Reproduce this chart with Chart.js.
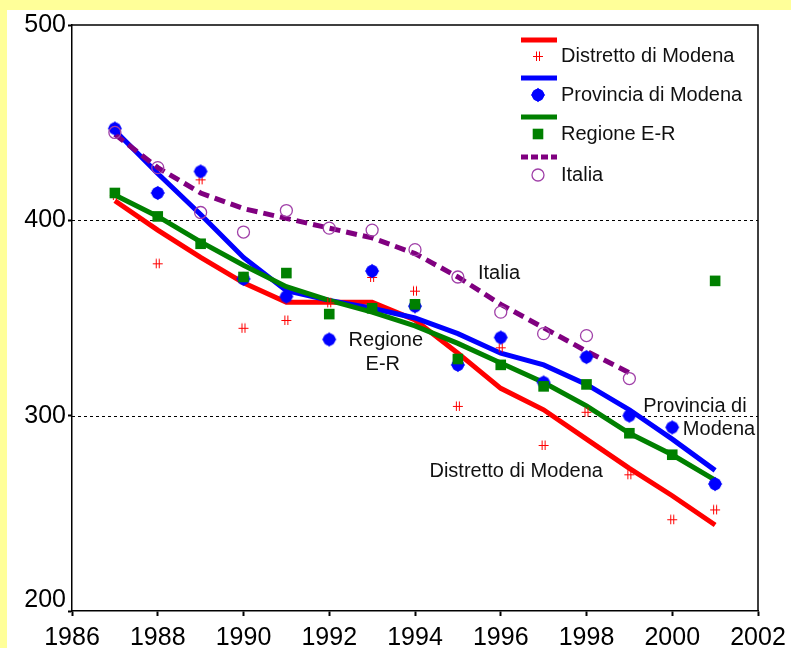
<!DOCTYPE html>
<html>
<head>
<meta charset="utf-8">
<script src="https://cdn.jsdelivr.net/npm/chart.js@4.4.0/dist/chart.umd.min.js"></script>
<style>
  html, body { margin: 0; padding: 0; background: #ffffff; }
  canvas { display: block; }
</style>
</head>
<body>
<canvas id="c" width="791" height="648"></canvas>
<script>
// Years of observation
const years = [1987, 1988, 1989, 1990, 1991, 1992, 1993, 1994, 1995, 1996, 1997, 1998, 1999, 2000, 2001];
const italiaYears = [1987, 1988, 1989, 1990, 1991, 1992, 1993, 1994, 1995, 1996, 1997, 1998, 1999];

// Observed rates
const distrettoObs = [413, 378, 421, 345, 349, 358, 371, 364, 305, 335, 285, 302, 270, 247, 252];
const provinciaObs = [447, 414, 425, 370, 361, 339, 374, 356, 326, 340, 317, 330, 300, 294, 265];
const regioneObs   = [414, 402, 388, 371, 373, 352, 355, 357, 329, 326, 315, 316, 291, 280, 369];
const italiaObs    = [445, 427, 404, 394, 405, 396, 395, 385, 371, 353, 342, 341, 319];

// Smoothed trends
const distrettoFit = [410, 395, 381, 368, 358, 358, 358, 349, 332, 314, 303, 288, 273, 259, 244];
const provinciaFit = [446, 424, 403, 381, 364, 359, 355, 350, 342, 332, 326, 316, 303, 288, 272];
const regioneFit   = [413, 402, 389, 377, 366, 359, 353, 346, 337, 327, 317, 305, 291, 280, 267];
const italiaFit    = [444, 427, 414, 406, 401, 396, 391, 383, 371, 357, 345, 333, 322];

// Axis ticks and reference lines
const xTicks = [1986, 1988, 1990, 1992, 1994, 1996, 1998, 2000, 2002];
const yTicks = [200, 300, 400, 500];
const refLines = [300, 400];

const FONT = '"Liberation Sans", Arial, Helvetica, sans-serif';

function asteriskMarker(color) {
  const c = document.createElement('canvas');
  c.width = 12; c.height = 12;
  const g = c.getContext('2d');
  g.strokeStyle = color;
  g.lineWidth = 1;
  g.beginPath();
  g.moveTo(1, 6.5); g.lineTo(11, 6.5);
  g.moveTo(4.5, 1.5); g.lineTo(4.5, 11);
  g.moveTo(7.5, 1.5); g.lineTo(7.5, 11);
  g.stroke();
  return c;
}

function diamondMarker(color) {
  const c = document.createElement('canvas');
  c.width = 16; c.height = 16;
  const g = c.getContext('2d');
  g.fillStyle = color;
  g.beginPath(); g.arc(8, 8, 6.2, 0, Math.PI * 2); g.fill();
  g.beginPath();
  g.moveTo(8, 0.8); g.lineTo(15.2, 8); g.lineTo(8, 15.2); g.lineTo(0.8, 8);
  g.closePath(); g.fill();
  return c;
}

const pts = (xs, ys) => xs.map((x, i) => ({ x: x, y: ys[i] }));

const series = [
  { label: 'Distretto di Modena', line: '#ff0000', obs: pts(years, distrettoObs), fit: pts(years, distrettoFit),
    point: { pointStyle: asteriskMarker('#ff0000'), pointRadius: 6, pointBackgroundColor: '#ff0000', pointBorderWidth: 0 } },
  { label: 'Provincia di Modena', line: '#0000ff', obs: pts(years, provinciaObs), fit: pts(years, provinciaFit),
    point: { pointStyle: diamondMarker('#0000ff'), pointRadius: 8, pointBackgroundColor: '#0000ff', pointBorderWidth: 0 } },
  { label: 'Regione E-R', line: '#008000', obs: pts(years, regioneObs), fit: pts(years, regioneFit),
    point: { pointStyle: 'rect', pointRadius: 7.5, pointBackgroundColor: '#008000', pointBorderColor: '#008000', pointBorderWidth: 0 } },
  { label: 'Italia', line: '#800080', dash: [11, 6], obs: pts(italiaYears, italiaObs), fit: pts(italiaYears, italiaFit),
    point: { pointStyle: 'circle', pointRadius: 6, pointBackgroundColor: 'rgba(0,0,0,0)', pointBorderColor: '#a040a8', pointBorderWidth: 1.3 } }
];

const datasets = [];
series.forEach((s, i) => {
  datasets.push({
    label: s.label + ' (trend)',
    data: s.fit,
    borderColor: s.line,
    borderWidth: 5,
    borderDash: s.dash || [],
    pointRadius: 0,
    tension: 0,
    fill: false,
    order: 20 - i
  });
  datasets.push(Object.assign({
    label: s.label,
    data: s.obs,
    showLine: false,
    order: 10 - i
  }, s.point));
});

// Paper background with the yellow band on the top and left
const backgroundPlugin = {
  id: 'paper',
  beforeDraw(chart) {
    const ctx = chart.ctx;
    ctx.save();
    ctx.fillStyle = '#ffffff';
    ctx.fillRect(0, 0, chart.width, chart.height);
    ctx.fillStyle = '#ffff99';
    ctx.fillRect(0, 0, chart.width, 10);
    ctx.fillRect(0, 0, 7, chart.height);
    ctx.restore();
  }
};

// Dotted reference lines and the frame around the plot
const framePlugin = {
  id: 'frame',
  beforeDatasetsDraw(chart) {
    const { ctx, chartArea: a, scales } = chart;
    ctx.save();
    ctx.strokeStyle = '#000000';
    ctx.lineWidth = 1;
    ctx.setLineDash([3, 3]);
    refLines.forEach(v => {
      const y = Math.round(scales.y.getPixelForValue(v)) + 0.5;
      ctx.beginPath();
      ctx.moveTo(a.left, y);
      ctx.lineTo(a.right, y);
      ctx.stroke();
    });
    ctx.setLineDash([]);
    ctx.lineWidth = 1.5;
    ctx.beginPath();
    ctx.moveTo(a.left, a.top);
    ctx.lineTo(a.right, a.top);
    ctx.lineTo(a.right, a.bottom);
    ctx.stroke();
    ctx.restore();
  }
};

// Series names written next to the curves
const notes = [
  { text: 'Italia', x: 1995.96, y: 373 },
  { text: 'Regione', x: 1993.32, y: 338.5 },
  { text: 'E-R', x: 1993.25, y: 326 },
  { text: 'Provincia di', x: 2000.53, y: 304.5 },
  { text: 'Modena', x: 2001.09, y: 292.7 },
  { text: 'Distretto di Modena', x: 1996.36, y: 271.3 }
];

const notesPlugin = {
  id: 'notes',
  afterDatasetsDraw(chart) {
    const { ctx, scales } = chart;
    ctx.save();
    ctx.font = '20px ' + FONT;
    ctx.fillStyle = '#111111';
    ctx.textAlign = 'center';
    ctx.textBaseline = 'middle';
    notes.forEach(n => {
      ctx.fillText(n.text, scales.x.getPixelForValue(n.x), scales.y.getPixelForValue(n.y));
    });
    ctx.restore();
  }
};

// Legend: line sample above each marker and name
const legendPlugin = {
  id: 'keyBox',
  afterDraw(chart) {
    const ctx = chart.ctx;
    const x0 = 521, lineLen = 36, markerX = 538, textX = 561;
    const lineY = [40, 78, 117, 157];
    const rowY  = [56, 95, 134, 175];
    ctx.save();
    series.forEach((s, i) => {
      ctx.strokeStyle = s.line;
      ctx.lineWidth = 5;
      ctx.setLineDash(s.dash ? [7, 3] : []);
      ctx.beginPath();
      ctx.moveTo(x0, lineY[i]);
      ctx.lineTo(x0 + lineLen, lineY[i]);
      ctx.stroke();
      ctx.setLineDash([]);
      ctx.fillStyle = s.point.pointBackgroundColor;
      ctx.strokeStyle = s.point.pointBorderColor || s.line;
      ctx.lineWidth = s.point.pointBorderWidth;
      Chart.helpers.drawPoint(ctx, {
        pointStyle: s.point.pointStyle,
        radius: s.point.pointRadius,
        rotation: 0,
        borderWidth: s.point.pointBorderWidth
      }, markerX, rowY[i]);
      ctx.fillStyle = '#111111';
      ctx.font = '20px ' + FONT;
      ctx.textAlign = 'left';
      ctx.textBaseline = 'middle';
      ctx.fillText(s.label, textX, rowY[i]);
    });
    ctx.restore();
  }
};

new Chart(document.getElementById('c'), {
  type: 'line',
  data: { datasets: datasets },
  plugins: [backgroundPlugin, framePlugin, notesPlugin, legendPlugin],
  options: {
    responsive: false,
    animation: false,
    events: [],
    layout: { padding: { top: 25, right: 33, left: 0, bottom: 0 } },
    plugins: { legend: { display: false }, tooltip: { enabled: false } },
    scales: {
      x: {
        type: 'linear',
        min: 1986,
        max: 2002,
        afterBuildTicks(scale) { scale.ticks = xTicks.map(v => ({ value: v })); },
        afterFit(scale) {
          scale.height = 37;
          scale.paddingLeft = 0;
          scale.paddingRight = 0;
        },
        ticks: { color: '#000000', font: { family: FONT, size: 25 }, padding: 7, maxRotation: 0, autoSkip: false,
                 callback: v => String(v) },
        grid: { drawOnChartArea: false, drawTicks: true, tickLength: 5, tickWidth: 2, tickColor: '#000000' },
        border: { color: '#000000', width: 1.5 }
      },
      y: {
        type: 'linear',
        min: 200,
        max: 500,
        afterBuildTicks(scale) { scale.ticks = yTicks.map(v => ({ value: v })); },
        afterFit(scale) { scale.width = 72; },
        ticks: { color: '#000000', font: { family: FONT, size: 25, lineHeight: 0.9 }, padding: 2, autoSkip: false,
                 // the lowest label sits just above its tick, clear of the year labels
                 callback: v => (v === yTicks[0] ? [String(v), ''] : String(v)) },
        grid: { drawOnChartArea: false, drawTicks: true, tickLength: 4, tickWidth: 2, tickColor: '#000000' },
        border: { color: '#000000', width: 1.5 }
      }
    }
  }
});
</script>
</body>
</html>
